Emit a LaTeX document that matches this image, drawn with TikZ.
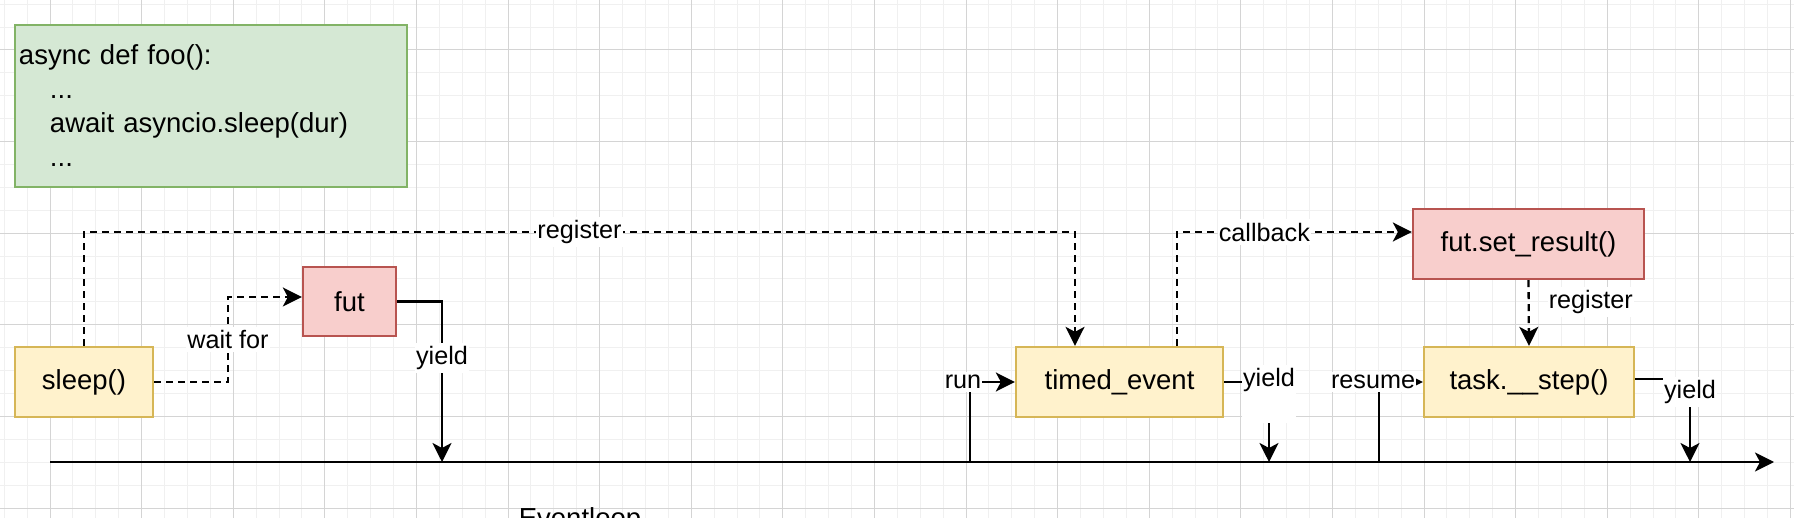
\documentclass[tikz,border=0pt]{standalone}
\usepackage{fontspec}
\setmainfont{Liberation Sans}
\usetikzlibrary{arrows.meta}
\definecolor{ylwfill}{HTML}{FFF2CC}
\definecolor{ylwline}{HTML}{D6B656}
\definecolor{redfill}{HTML}{F8CECC}
\definecolor{redline}{HTML}{B85450}
\definecolor{grnfill}{HTML}{D5E8D4}
\definecolor{grnline}{HTML}{82B366}
\definecolor{gridlo}{HTML}{F0F0F0}
\definecolor{gridhi}{HTML}{D4D4D4}

\begin{document}
\begin{tikzpicture}[x=1pt, y=-1pt, line width=2.3pt,
    font=\fontsize{27.5pt}{34pt}\selectfont,
    ybox/.style={draw=ylwline, fill=ylwfill, inner sep=0pt, minimum height=70pt},
    rbox/.style={draw=redline, fill=redfill, inner sep=0pt, minimum height=69pt},
    elabel/.style={fill=white, inner xsep=1pt, inner ysep=3.5pt, font=\fontsize{25.2pt}{30pt}\selectfont},
    flow/.style={-{Stealth[length=19pt, width=19pt, inset=5pt]}},
    dashflow/.style={flow, dash pattern=on 7pt off 5pt}]
      \useasboundingbox (0,0) rectangle (1794,518);
      \fill[white] (0,0) rectangle (1794,518);
      % rejilla de fondo
      \foreach \gx in {4.2,27.1,...,1794} \draw[gridlo, line width=1pt] (\gx,0) -- (\gx,518);
      \foreach \gy in {4.2,27.1,...,518} \draw[gridlo, line width=1pt] (0,\gy) -- (1794,\gy);
      \foreach \gx in {50,141.6,...,1794} \draw[gridhi, line width=1pt] (\gx,0) -- (\gx,518);
      \foreach \gy in {50,141.6,...,518} \draw[gridhi, line width=1pt] (0,\gy) -- (1794,\gy);
      % codigo
      \node[draw=grnline, fill=grnfill, minimum height=162pt, text width=384pt, inner sep=4pt, align=left] (code) at (211,106)
        {async def foo():\\ \hspace*{31pt}...\\ \hspace*{31pt}await asyncio.sleep(dur)\\ \hspace*{31pt}...};
      % cajas
      \node[ybox, minimum width=138pt] (sleep) at (84,382) {sleep()};
      \node[rbox, minimum width=93pt] (fut) at (349.5,301.5) {fut};
      \node[ybox, minimum width=207pt] (timed) at (1119.5,382) {timed\_event};
      \node[rbox, minimum width=231pt, minimum height=70pt] (setres) at (1528.5,244) {fut.set\_result()};
      \node[ybox, minimum width=210pt] (step) at (1529,382) {task.\_\_step()};
      % el bucle
      \coordinate (loopstart) at (50,462);
      \coordinate (loopend) at (1774,462);
      \draw[flow, line width=2.8pt] (loopstart) -- (loopend);
      \node[anchor=north, inner sep=0pt] (evl) at (580,506) {Eventloop};
      \coordinate (yield1) at (442,462);
      \coordinate (run) at (970,462);
      \coordinate (yield2) at (1269,462);
      \coordinate (resume) at (1379,462);
      \coordinate (yield3) at (1690,462);
      \coordinate (reg) at (1075,232);
      \coordinate (cb) at (1177,232);
      \coordinate (wait) at (228,297);
      % flechas
      \draw[dashflow] (sleep.north) |- node[elabel, pos=.75] {register} (reg) -- (reg |- timed.north);
      \draw[dashflow] (sleep.east) -| node[elabel, pos=.75] {wait for} (wait) -- (wait -| fut.west);
      \draw[flow] (fut.east) -| node[elabel, pos=.676] {yield} (yield1);
      \draw[flow] (run) |- node[elabel, pos=.5, xshift=-7pt] {run} (timed.west);
      \draw[flow] (timed.east) -| node[elabel, pos=.5, anchor=base, yshift=-5pt, text depth=33pt] {yield} (yield2);
      \draw[dashflow] (cb |- timed.north) |- node[elabel, pos=.686] {callback} (setres.west |- cb);
      \draw[dashflow] (setres.south) -- node[elabel, xshift=62pt, yshift=11pt] {register} (step.north);
      \draw[flow] (resume) |- node[elabel, pos=.5, xshift=-6pt] {resume} (step.west);
      \draw[flow] ([yshift=3pt]step.east) -| node[elabel, pos=.5, yshift=-13pt] {yield} (yield3);
\end{tikzpicture}
\end{document}
